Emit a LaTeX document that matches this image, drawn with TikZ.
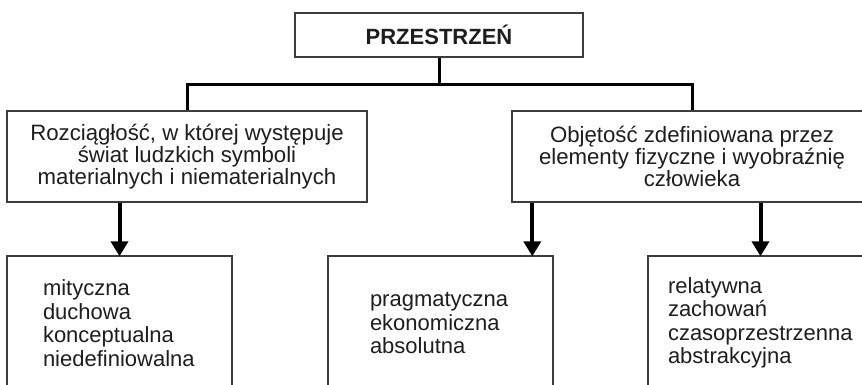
\documentclass[tikz,border=0pt]{standalone}
\usepackage{fontspec}
\setmainfont{Liberation Sans}
\usepackage{tikz}
\usetikzlibrary{arrows.meta, positioning, calc}
\definecolor{boxGray}{HTML}{3C3C3C}
\definecolor{txtDark}{HTML}{1E1E1E}

\begin{document}
\begin{tikzpicture}[
    x=1pt, y=-1pt,
    topbox/.style={draw=boxGray, line width=1.4pt, minimum width=288pt, minimum height=44pt, font=\fontsize{22}{22}\selectfont\bfseries, text=txtDark},
    midbox/.style={draw=boxGray, line width=1.4pt, minimum width=360pt, minimum height=91pt, font=\fontsize{22.2}{20.5}\selectfont, align=center, text=txtDark, inner sep=0pt},
    leafbox/.style={draw=boxGray, line width=1.4pt, minimum width=225pt, minimum height=134pt, font=\fontsize{22}{23.5}\selectfont, align=left, text=txtDark, inner sep=0pt},
    conn/.style={line width=3pt, color=black},
    arr/.style={-{Triangle[width=17pt, length=15pt]}, line width=4pt, color=black, shorten >=-1pt},
]
    \path[use as bounding box, clip] (0,0) rectangle (862,384);
    \fill[white] (0,0) rectangle (862,384);

    \node[topbox] (prz) at (439,35) {PRZESTRZEŃ};

    \node[midbox] (rozc) at (187,156.5) {Rozciągłość, w której występuje\\świat ludzkich symboli\\materialnych i niematerialnych};
    \node[midbox] (obj) at (692,156.5) {Objętość zdefiniowana przez\\elementy fizyczne i wyobraźnię\\człowieka};

    % leaves
    \node[leafbox, text width=153pt] (mit) at (119.5,323) {mityczna\\duchowa\\konceptualna\\niedefiniowalna};
    \node[leafbox, text width=141pt] (prag) at (440.5,323) {pragmatyczna\\ekonomiczna\\absolutna};
    \node[leafbox, text width=185pt] (rel) at (760.5,323) {relatywna\\zachowań\\czasoprzestrzenna\\abstrakcyjna};

    % Tree lines
    \draw[conn] (prz.south) -- ++(0,27) -| (rozc.north);
    \draw[conn] (prz.south) -- ++(0,27) -| (obj.north);

    % Arrows
    \coordinate (objl) at ($(obj.south west)+(21,0)$);
    \draw[arr] (mit.north |- rozc.south) -- (mit.north);
    \draw[arr] (objl) -- (objl |- prag.north);
    \draw[arr] (rel.north |- obj.south) -- (rel.north);
\end{tikzpicture}
\end{document}
